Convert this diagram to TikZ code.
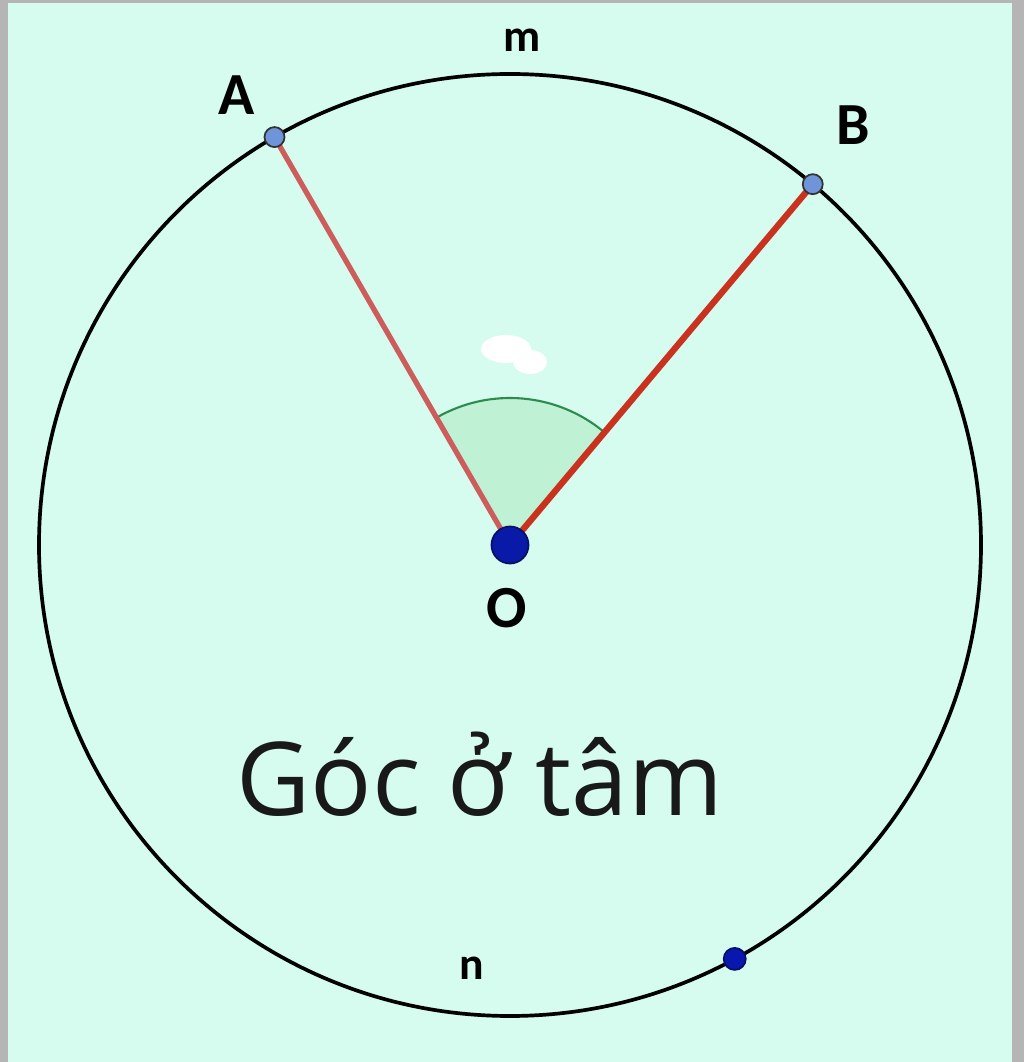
\documentclass[tikz,border=0pt]{standalone}
\usepackage{fontspec}
\setmainfont{Open Sans}
\newfontfamily\labelfont{Carlito}
\usetikzlibrary{calc}
\definecolor{bgmint}{HTML}{D5FCEE}
\definecolor{edgegray}{HTML}{B5B5B5}
\definecolor{rayA}{HTML}{CD5C5C}
\definecolor{rayB}{HTML}{C8321E}
\definecolor{ptblue}{HTML}{6F94DA}
\definecolor{centreblue}{HTML}{0A1AA8}
\definecolor{sectorfill}{HTML}{BFF2D4}
\definecolor{sectorline}{HTML}{2E8B50}
\tikzset{
  pt/.style={circle,draw=black!80,fill=ptblue,line width=0.5pt,inner sep=0pt,minimum size=0.2cm},
  lbl/.style={font=\labelfont\bfseries\fontsize{17}{20}\selectfont},
  arclbl/.style={font=\labelfont\bfseries\fontsize{13}{15}\selectfont}
}
\begin{document}
\begin{tikzpicture}
  \useasboundingbox (0,0) rectangle (10.24,10.62);
  \fill[bgmint] (0,0) rectangle (10.24,10.62);
  \fill[edgegray] (0,0) rectangle (0.08,10.62);
  \fill[edgegray] (10.12,0) rectangle (10.24,10.62);
  \fill[edgegray] (0,10.59) rectangle (10.24,10.62);
  % centre and points on the circle
  \coordinate (O) at (5.10,5.17);
  \coordinate (A) at ($(O)+(120:4.71)$);
  \coordinate (B) at ($(O)+(50:4.71)$);
  \coordinate (P) at ($(O)+(-61.5:4.71)$);
  % angle at the centre
  \fill[sectorfill] (O) -- ($(O)+(50:1.47)$) arc(50:120:1.47) -- cycle;
  \draw[sectorline,line width=0.6pt] ($(O)+(50:1.47)$) arc(50:120:1.47);
  \fill[white] (5.06,7.13) ellipse(0.25 and 0.14);
  \fill[white] (5.30,7.00) ellipse(0.17 and 0.12);
  \draw[line width=1.05pt] (O) circle(4.71);
  \draw[rayA,line width=1.5pt] (O) -- (A);
  \draw[rayB,line width=1.8pt] (O) -- (B);
  \node[pt] (a) at (A) {};
  \node[pt] (b) at (B) {};
  \node[pt,fill=centreblue!90!blue,draw=centreblue!60!black,minimum size=0.22cm] (p) at (P) {};
  \node[circle,fill=centreblue,draw=centreblue!60!black,line width=0.5pt,inner sep=0pt,minimum size=0.37cm] (o) at (O) {};
  % labels
  \node[lbl] (la) at (2.37,9.67) {A};
  \node[lbl] (lb) at (8.53,9.37) {B};
  \node[lbl] (lo) at (5.07,4.54) {O};
  \node[arclbl] (lm) at (5.22,10.22) {m};
  \node[arclbl] (ln) at (4.72,0.94) {n};
  \node[font=\fontsize{29}{34}\selectfont,text=black!90] (title) at (4.80,2.88) {Góc ở tâm};
\end{tikzpicture}
\end{document}
